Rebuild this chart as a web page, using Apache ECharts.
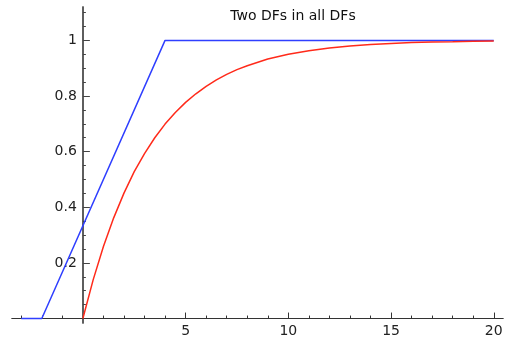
<!DOCTYPE html>
<html>
<head>
<meta charset="utf-8">
<script src="https://cdn.jsdelivr.net/npm/echarts@6/dist/echarts.min.js"></script>
<style>
  html, body { margin: 0; padding: 0; background: #fff; }
  #chart { width: 505px; height: 339px; }
</style>
</head>
<body>
<div id="chart"></div>
<script>
// piecewise linear DF (blue)
const blueX = [-3, -2, 4, 20];
const blueY = [0, 0, 1, 1];

// smooth DF (red)
const redX = [0, 0.5, 1, 1.5, 2, 2.5, 3, 3.5, 4, 4.5, 5, 5.5, 6, 6.5, 7, 7.5, 8, 9, 10, 11, 12, 13, 14, 15, 16, 17, 18, 19, 20];
const redY = [0, 0.139, 0.259, 0.362, 0.451, 0.528, 0.593, 0.650, 0.699, 0.741, 0.777, 0.808, 0.835, 0.858, 0.878, 0.895, 0.909, 0.933, 0.950, 0.963, 0.973, 0.980, 0.985, 0.989, 0.992, 0.994, 0.995, 0.997, 0.998];

// tick labels / tick marks
const xMajor = [5, 10, 15, 20];
const xMinor = [-3, -2, -1, 1, 2, 3, 4, 6, 7, 8, 9, 11, 12, 13, 14, 16, 17, 18, 19];
const yMajor = [0.2, 0.4, 0.6, 0.8, 1];
const yMinor = [0.05, 0.1, 0.15, 0.25, 0.3, 0.35, 0.45, 0.5, 0.55, 0.65, 0.7, 0.75, 0.85, 0.9, 0.95, 1.05, 1.1];

const font = 'DejaVu Sans';
const zip = (xs, ys) => xs.map((x, i) => [x, ys[i]]);

// axes cross at (0, 0): shift them in from the grid edges
const gridLeft = 12, gridRight = 2, gridTop = 7, gridBottom = 16;
const xMin = -3.45, xMax = 20.45, yMin = -0.016, yMax = 1.12;
const plotW = 505 - gridLeft - gridRight;
const plotH = 339 - gridTop - gridBottom;
const yAxisOffset = -((0 - xMin) / (xMax - xMin)) * plotW;
const xAxisOffset = -((0 - yMin) / (yMax - yMin)) * plotH;

const xBase = {
  type: 'value',
  min: xMin,
  max: xMax,
  position: 'bottom',
  offset: xAxisOffset,
  splitLine: { show: false },
  axisLine: { show: true, onZero: false, lineStyle: { color: '#333', width: 1 } },
};
const yBase = {
  type: 'value',
  min: yMin,
  max: yMax,
  position: 'left',
  offset: yAxisOffset,
  splitLine: { show: false },
  axisLine: { show: true, onZero: false, lineStyle: { color: '#555', width: 1.5 } },
};

const chart = echarts.init(document.getElementById('chart'), null, { renderer: 'canvas' });
chart.setOption({
  animation: false,
  title: {
    text: 'Two DFs in all DFs',
    left: 288,
    top: 4,
    textAlign: 'center',
    textStyle: { fontFamily: font, fontSize: 14, fontWeight: 'normal', color: '#111' },
  },
  grid: { left: gridLeft, right: gridRight, top: gridTop, bottom: gridBottom, containLabel: false, outerBoundsMode: 'none' },
  xAxis: [
    {
      ...xBase,
      axisTick: { show: true, inside: true, length: 6, customValues: xMajor, lineStyle: { color: '#333' } },
      axisLabel: { customValues: xMajor, margin: 6, fontFamily: font, fontSize: 14, color: '#222' },
    },
    {
      ...xBase,
      axisTick: { show: true, inside: true, length: 3, customValues: xMinor, lineStyle: { color: '#333' } },
      axisLabel: { show: false },
    },
  ],
  yAxis: [
    {
      ...yBase,
      axisTick: { show: true, inside: true, length: 7, customValues: yMajor, lineStyle: { color: '#444' } },
      axisLabel: { customValues: yMajor, margin: 6, fontFamily: font, fontSize: 14, color: '#222' },
    },
    {
      ...yBase,
      axisTick: { show: true, inside: true, length: 3, customValues: yMinor, lineStyle: { color: '#444' } },
      axisLabel: { show: false },
    },
  ],
  series: [
    {
      type: 'line',
      data: zip(blueX, blueY),
      showSymbol: false,
      lineStyle: { color: '#2f3fff', width: 1.5 },
      itemStyle: { color: '#2f3fff' },
    },
    {
      type: 'line',
      data: zip(redX, redY),
      smooth: false,
      showSymbol: false,
      lineStyle: { color: '#ff2a1a', width: 1.5 },
      itemStyle: { color: '#ff2a1a' },
    },
  ],
});
</script>
</body>
</html>
